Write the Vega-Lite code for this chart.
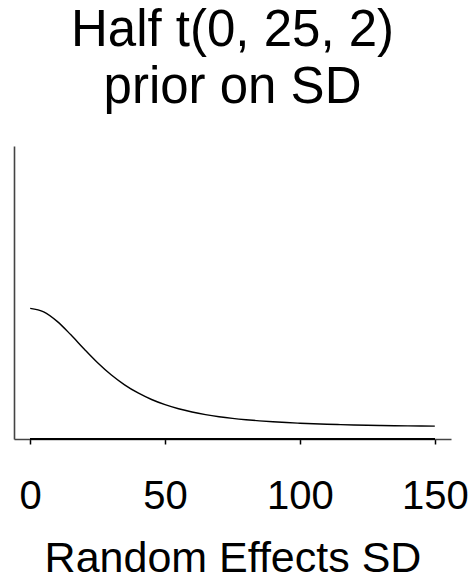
{
  "$schema": "https://vega.github.io/schema/vega-lite/v6.json",
  "autosize": {"type": "none"},
  "width": 437,
  "height": 293,
  "padding": {"left": 14, "top": 146, "right": 21, "bottom": 140},
  "background": "white",
  "config": {
    "view": {"stroke": null},
    "font": "Liberation Sans"
  },
  "title": {
    "text": ["Half t(0, 25, 2)", "prior on SD"],
    "fontSize": 51,
    "fontWeight": "normal",
    "font": "Liberation Sans",
    "color": "black",
    "anchor": "middle",
    "frame": "group",
    "lineHeight": 57,
    "offset": 32
  },
  "data": {
    "values": [
      {"sd": 0, "density": 0.028284},
      {"sd": 5, "density": 0.027456},
      {"sd": 10, "density": 0.025200},
      {"sd": 15, "density": 0.022065},
      {"sd": 20, "density": 0.018650},
      {"sd": 25, "density": 0.015396},
      {"sd": 30, "density": 0.012539},
      {"sd": 35, "density": 0.010151},
      {"sd": 40, "density": 0.008216},
      {"sd": 45, "density": 0.006670},
      {"sd": 50, "density": 0.005443},
      {"sd": 55, "density": 0.004472},
      {"sd": 60, "density": 0.003701},
      {"sd": 65, "density": 0.003086},
      {"sd": 70, "density": 0.002592},
      {"sd": 75, "density": 0.002193},
      {"sd": 80, "density": 0.001868},
      {"sd": 85, "density": 0.001602},
      {"sd": 90, "density": 0.001382},
      {"sd": 95, "density": 0.001200},
      {"sd": 100, "density": 0.001048},
      {"sd": 105, "density": 0.000919},
      {"sd": 110, "density": 0.000810},
      {"sd": 115, "density": 0.000718},
      {"sd": 120, "density": 0.000638},
      {"sd": 125, "density": 0.000570},
      {"sd": 130, "density": 0.000511},
      {"sd": 135, "density": 0.000460},
      {"sd": 140, "density": 0.000415},
      {"sd": 145, "density": 0.000376},
      {"sd": 150, "density": 0.000342}
    ]
  },
  "layer": [
    {
      "mark": {"type": "line", "color": "black", "strokeWidth": 1.4, "interpolate": "monotone"},
      "encoding": {
        "x": {
          "field": "sd",
          "type": "quantitative",
          "scale": {"domain": [-6, 156], "nice": false, "zero": false},
          "axis": {
            "values": [0, 50, 100, 150],
            "grid": false,
            "domainColor": "#444444",
            "domainWidth": 1.6,
            "tickColor": "black",
            "tickWidth": 1.5,
            "tickSize": 5,
            "labelFontSize": 40,
            "labelFont": "Liberation Sans",
            "labelColor": "black",
            "labelPadding": 32,
            "labelFlush": false,
            "labelOverlap": false,
            "title": "Random Effects SD",
            "titleFontSize": 43,
            "titleFont": "Liberation Sans",
            "titleFontWeight": "normal",
            "titleColor": "black",
            "titlePadding": 21
          }
        },
        "y": {
          "field": "density",
          "type": "quantitative",
          "scale": {"domain": [-0.0027, 0.0668], "nice": false, "zero": false},
          "axis": {
            "grid": false,
            "ticks": false,
            "labels": false,
            "title": null,
            "domainColor": "#444444",
            "domainWidth": 1.6
          }
        }
      }
    },
    {
      "mark": {"type": "rule", "color": "black", "strokeWidth": 1.6},
      "encoding": {
        "x": {"datum": 0},
        "x2": {"datum": 150},
        "y": {"datum": -0.0027}
      }
    }
  ]
}
